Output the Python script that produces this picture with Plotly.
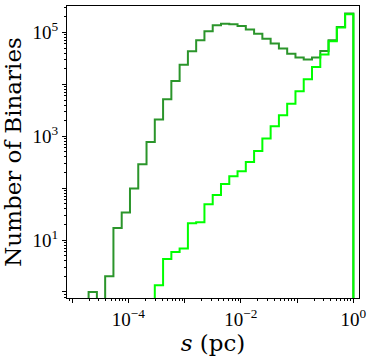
import numpy as np
import plotly.graph_objects as go

# histogram bins in s (pc), equal width in log10
bin_edges = np.logspace(-5, 0, 35)

all_counts = [0, 0, 1, 0, 2, 17, 34, 99, 288, 778, 2100, 5160, 11600, 24000,
              43400, 70800, 105000, 138000, 148000, 144000, 133000, 114000,
              95000, 76000, 61000, 49000, 39000, 32800, 30000, 32800, 44000,
              70800, 128000, 231000]
wide_counts = [0, 0, 0, 0, 0, 0, 0, 0, 0, 0, 1.35, 4.3, 5.9, 6.9, 21, 22, 49,
               74, 120, 169, 211, 318, 523, 905, 1560, 2530, 4230, 7400, 12500,
               21600, 37800, 68000, 124000, 225000]

x_decades = [1e-5, 1e-4, 1e-3, 1e-2, 1e-1, 1]
x_labelled = [1e-4, 1e-2, 1]
x_ticktext = ['10<sup>−4</sup>', '10<sup>−2</sup>', '10<sup>0</sup>']
y_decades = [1, 10, 100, 1e3, 1e4, 1e5]
y_labelled = [10, 1e3, 1e5]
y_ticktext = ['10<sup>1</sup>', '10<sup>3</sup>', '10<sup>5</sup>']

X_RANGE = [-5.09, 0.10]
Y_RANGE = [-0.116, 5.51]
FLOOR = 1e-2  # stands in for empty bins on the log axis


def step_trace(counts, color, xa='x', ya='y'):
    c = [v if v > 0 else FLOOR for v in counts]
    x = [bin_edges[0]] + list(bin_edges) + [bin_edges[-1]]
    y = [FLOOR] + c + [c[-1], FLOOR]
    return go.Scatter(x=x, y=y, mode='lines', line_shape='hv',
                      line=dict(color=color, width=2), showlegend=False,
                      hoverinfo='skip', xaxis=xa, yaxis=ya)


fig = go.Figure([step_trace(all_counts, '#2b952b'),
                 step_trace(wide_counts, '#00ff00', 'x2', 'y2')])

tick_font = dict(family='Liberation Serif, serif', size=19, color='black')
title_font = dict(family='DejaVu Serif, serif', size=23, color='black')

main_axis = dict(
    type='log', showgrid=False, zeroline=False,
    showline=True, linecolor='black', linewidth=1, mirror=True,
    ticks='outside', ticklen=4, tickwidth=1, tickcolor='black',
    tickfont=tick_font,
    minor=dict(ticks='outside', ticklen=2, tickwidth=0.8, tickcolor='black',
               dtick='D1', showgrid=False),
)
# unlabelled decade ticks
overlay_axis = dict(
    type='log', showgrid=False, zeroline=False, showline=False,
    ticks='outside', ticklen=4, tickwidth=1, tickcolor='black',
    showticklabels=False,
)

fig.update_layout(
    width=374, height=359,
    margin=dict(l=67, r=15, t=6, b=61),
    paper_bgcolor='white', plot_bgcolor='white',
    xaxis=dict(range=X_RANGE, tickvals=x_labelled, ticktext=x_ticktext,
               title=dict(text='<i>s</i> (pc)', font=title_font, standoff=4),
               **main_axis),
    yaxis=dict(range=Y_RANGE, tickvals=y_labelled, ticktext=y_ticktext,
               title=dict(text='Number of Binaries', font=title_font,
                          standoff=6),
               **main_axis),
    xaxis2=dict(range=X_RANGE, tickvals=x_decades, overlaying='x',
                anchor='y2', side='bottom', **overlay_axis),
    yaxis2=dict(range=Y_RANGE, tickvals=y_decades, overlaying='y',
                anchor='x2', side='left', **overlay_axis),
)

fig.write_html("out.html", config={'displayModeBar': False},
               post_script="document.body.style.margin='0';")
